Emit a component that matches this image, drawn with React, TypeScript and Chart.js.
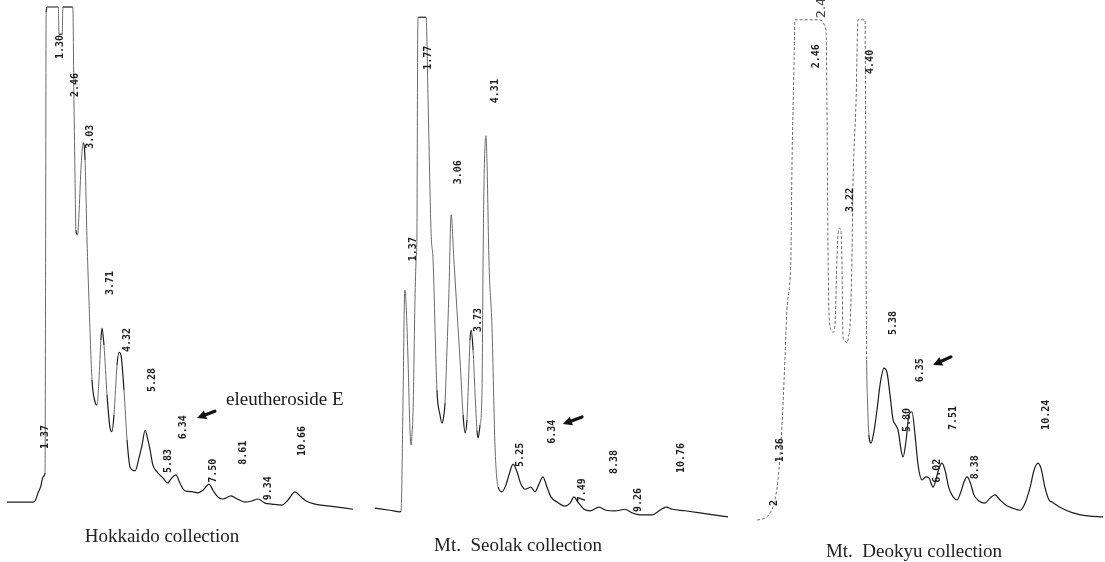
import React, { useEffect, useRef } from "react";
import { Chart, registerables } from "chart.js";

Chart.register(...registerables);

// ---------------- Hokkaido collection ----------------
const hokkaidoTime = [0.25, 1.19, 1.26, 1.37, 1.47, 1.55, 1.62, 1.64, 1.66, 1.70, 2.10, 2.12, 2.24, 2.26, 2.62, 2.66, 2.70, 2.73, 2.79, 2.84, 2.91, 2.99, 3.06, 3.13, 3.20, 3.31, 3.42, 3.49, 3.56, 3.63, 3.67, 3.74, 3.85, 3.96, 4.03, 4.10, 4.21, 4.28, 4.35, 4.46, 4.57, 4.68, 4.86, 5.00, 5.11, 5.22, 5.32, 5.40, 5.50, 5.65, 5.86, 6.04, 6.12, 6.33, 6.47, 6.65, 6.94, 7.12, 7.30, 7.52, 7.66, 7.84, 8.02, 8.31, 8.53, 8.81, 9.06, 9.28, 9.53, 9.78, 10.14, 10.36, 10.61, 10.79, 11.01, 11.33, 11.87, 12.70];
const hokkaidoSignal = [3.5, 3.5, 3.7, 5.3, 6.6, 8.4, 9.2, 50.0, 99.0, 100, 100, 94.7, 94.7, 100, 100, 81.9, 66.3, 56.5, 55.6, 59.5, 68.2, 73.5, 70.2, 54.6, 42.9, 27.3, 23.0, 22.4, 27.3, 35.1, 37.4, 34.1, 24.4, 17.9, 17.2, 20.5, 30.2, 32.7, 32.2, 25.3, 15.6, 10.3, 9.6, 12.1, 14.6, 17.5, 15.6, 13.6, 10.7, 9.4, 8.2, 7.2, 7.8, 8.8, 7.2, 5.7, 5.5, 5.3, 5.8, 7.0, 5.8, 4.5, 4.1, 4.7, 4.1, 3.5, 3.7, 4.1, 3.3, 3.1, 2.9, 3.9, 5.5, 4.7, 3.7, 3.1, 2.7, 2.1];
const hokkaidoPeakLabels = ["1.37", "1.30", "2.46", "3.03", "3.71", "4.32", "5.28", "5.83", "6.34", "7.50", "8.61", "9.34", "10.66"];
const hokkaidoLabelTime = [1.62, 2.16, 2.70, 3.24, 3.96, 4.57, 5.47, 6.04, 6.58, 7.66, 8.74, 9.64, 10.86];
const hokkaidoLabelLevel = [16.2, 92.2, 84.8, 74.7, 46.2, 35.1, 27.3, 11.5, 18.1, 9.6, 13.1, 6.2, 15.4];
const hokkaidoArrowTail = [7.73, 21.2];
const hokkaidoArrowHead = [7.09, 19.9];
const hokkaidoCaption = "Hokkaido collection";
const compoundName = "eleutheroside E";
const compoundNameAt = [8.13, 23.4];

// ---------------- Mt. Seolak collection ----------------
const seolakTime = [0.25, 0.79, 1.15, 1.19, 1.26, 1.31, 1.33, 1.38, 1.44, 1.51, 1.55, 1.58, 1.62, 1.69, 1.73, 1.76, 1.79, 1.81, 2.09, 2.16, 2.27, 2.34, 2.48, 2.59, 2.66, 2.73, 2.77, 2.84, 2.91, 2.99, 3.09, 3.20, 3.31, 3.42, 3.49, 3.56, 3.60, 3.67, 3.71, 3.78, 3.85, 3.92, 3.96, 4.03, 4.10, 4.14, 4.17, 4.24, 4.28, 4.35, 4.46, 4.57, 4.68, 4.82, 4.96, 5.07, 5.22, 5.36, 5.50, 5.65, 5.86, 6.01, 6.15, 6.29, 6.44, 6.58, 6.80, 7.09, 7.27, 7.41, 7.55, 7.77, 7.99, 8.31, 8.56, 8.88, 9.06, 9.24, 9.50, 9.78, 10.22, 10.50, 10.72, 10.94, 11.40, 11.94, 12.95];
const seolakSignal = [2.3, 1.9, 1.6, 1.8, 23.4, 42.9, 44.8, 40.9, 31.2, 17.5, 14.6, 16.6, 20.9, 42.9, 50.7, 55.9, 96.0, 98.0, 98.0, 81.9, 55.9, 50.7, 25.3, 20.5, 18.9, 20.5, 22.8, 33.1, 44.2, 59.5, 50.7, 40.9, 31.2, 20.5, 17.0, 19.5, 24.8, 35.1, 37.0, 33.1, 24.8, 17.5, 16.0, 18.5, 24.8, 50.7, 64.9, 74.9, 70.0, 50.7, 37.6, 14.2, 6.4, 5.5, 6.8, 8.8, 10.9, 9.4, 7.0, 6.0, 6.4, 5.5, 7.0, 8.4, 6.4, 4.5, 3.5, 2.7, 3.3, 4.5, 3.5, 2.1, 1.8, 2.5, 1.9, 1.8, 1.9, 2.1, 1.4, 1.0, 1.0, 1.9, 2.5, 2.1, 1.8, 1.4, 0.6];
const seolakPeakLabels = ["1.37", "1.77", "3.06", "4.31", "3.73", "5.25", "6.34", "7.49", "8.38", "9.26", "10.76"];
const seolakLabelTime = [1.62, 2.16, 3.24, 4.57, 3.96, 5.50, 6.62, 7.73, 8.85, 9.71, 11.29];
const seolakLabelLevel = [52.8, 90.1, 67.8, 83.6, 39.0, 12.7, 17.2, 5.8, 11.3, 3.9, 12.1];
const seolakArrowTail = [7.70, 20.1];
const seolakArrowHead = [7.01, 18.7];
const seolakCaption = "Mt.  Seolak collection";

// ---------------- Mt. Deokyu collection ----------------
const deokyuTime = [0.76, 0.94, 1.15, 1.37, 1.51, 1.65, 1.76, 1.83, 1.94, 1.98, 2.01, 2.09, 2.12, 2.95, 3.24, 3.27, 3.31, 3.35, 3.42, 3.49, 3.56, 3.63, 3.67, 3.71, 3.78, 3.81, 3.85, 3.92, 3.99, 4.06, 4.10, 4.17, 4.21, 4.32, 4.39, 4.64, 4.66, 4.68, 4.70, 4.73, 4.78, 4.86, 4.96, 5.07, 5.18, 5.32, 5.43, 5.54, 5.65, 5.72, 5.83, 5.94, 6.01, 6.12, 6.22, 6.33, 6.44, 6.55, 6.69, 6.83, 6.94, 7.09, 7.19, 7.30, 7.41, 7.52, 7.66, 7.81, 7.95, 8.09, 8.20, 8.31, 8.42, 8.56, 8.74, 8.96, 9.14, 9.32, 9.50, 9.71, 9.96, 10.22, 10.40, 10.58, 10.72, 10.86, 10.97, 11.12, 11.26, 11.37, 11.65, 12.12, 12.66, 13.20];
const deokyuSignal = [0.0, 0.2, 0.8, 3.3, 7.8, 18.1, 31.2, 40.9, 46.8, 52.6, 67.6, 89.7, 97.5, 97.5, 95.5, 81.9, 52.6, 39.6, 37.0, 36.6, 38.0, 50.7, 55.6, 56.9, 56.1, 50.7, 35.7, 34.9, 34.5, 36.1, 37.6, 50.7, 65.7, 81.9, 97.5, 97.5, 81.9, 50.7, 31.2, 23.4, 16.6, 15.0, 17.2, 21.4, 26.3, 29.6, 28.8, 24.4, 19.5, 18.7, 17.5, 13.6, 12.3, 15.6, 20.5, 21.1, 16.6, 10.7, 7.8, 8.4, 8.2, 6.4, 7.8, 10.1, 11.1, 9.7, 6.2, 4.5, 3.9, 5.5, 7.4, 8.4, 7.4, 4.9, 3.7, 3.3, 4.3, 4.9, 3.9, 2.9, 2.3, 1.9, 3.3, 6.4, 9.7, 11.1, 10.1, 6.2, 3.9, 3.5, 2.5, 1.4, 0.8, 0.6];
const deokyuPeakLabels = ["2", "1.36", "2.46", "4.40", "3.22", "5.38", "6.35", "5.80", "6.02", "7.51", "8.38", "10.24"];
const deokyuLabelTime = [1.37, 1.58, 2.88, 4.82, 4.10, 5.65, 6.65, 6.15, 7.23, 7.81, 8.60, 11.15];
const deokyuLabelLevel = [3.3, 13.6, 90.4, 89.3, 62.4, 38.4, 29.2, 19.5, 9.6, 19.9, 10.3, 20.5];
const deokyuOverflowLabel = "2.4";
const deokyuOverflowAt = [3.09, 99.8];
const deokyuArrowTail = [7.73, 31.8];
const deokyuArrowHead = [7.09, 30.2];
const deokyuCaption = "Mt.  Deokyu collection";

// ---------------- layout / style ----------------
const MIN_PER_PX = 1 / 27.8;
const TRACE = "#1c1c1c";
const FAINT = "#6a6a6a";

type PanelSpec = {
  left: number;
  width: number;
  time: number[];
  signal: number[];
  labels: string[];
  labelTime: number[];
  labelLevel: number[];
  arrowTail: number[];
  arrowHead: number[];
  caption: string;
  captionX: number;
  captionY: number;
  dashedBefore: number;
  extra?: (chart: any) => void;
};

function drawArrow(ctx: CanvasRenderingContext2D, x0: number, y0: number, x1: number, y1: number) {
  const ang = Math.atan2(y1 - y0, x1 - x0);
  const headLen = 9;
  const headHalf = 4.5;
  const bx = x1 - Math.cos(ang) * headLen;
  const by = y1 - Math.sin(ang) * headLen;
  ctx.save();
  ctx.strokeStyle = "#111";
  ctx.fillStyle = "#111";
  ctx.lineWidth = 3.2;
  ctx.lineCap = "round";
  ctx.beginPath();
  ctx.moveTo(x0, y0);
  ctx.lineTo(bx, by);
  ctx.stroke();
  ctx.beginPath();
  ctx.moveTo(x1, y1);
  ctx.lineTo(bx + Math.sin(ang) * headHalf, by - Math.cos(ang) * headHalf);
  ctx.lineTo(bx - Math.sin(ang) * headHalf, by + Math.cos(ang) * headHalf);
  ctx.closePath();
  ctx.fill();
  ctx.restore();
}

function Panel({ spec }: { spec: PanelSpec }) {
  const ref = useRef<HTMLCanvasElement>(null);
  useEffect(() => {
    if (!ref.current) return;
    const annot = {
      id: "chromAnnot",
      afterDatasetsDraw(chart: any) {
        const ctx: CanvasRenderingContext2D = chart.ctx;
        const xs = chart.scales.x;
        const ys = chart.scales.y;
        ctx.save();
        ctx.fillStyle = "#1e1e1e";
        ctx.font = 'bold 10px "DejaVu Sans Mono", monospace';
        ctx.textAlign = "center";
        ctx.textBaseline = "middle";
        spec.labels.forEach((txt, i) => {
          const px = xs.getPixelForValue(spec.labelTime[i]);
          const py = ys.getPixelForValue(spec.labelLevel[i]);
          ctx.save();
          ctx.translate(px, py);
          ctx.rotate(-Math.PI / 2);
          ctx.fillText(txt, 0, 0);
          ctx.restore();
        });
        drawArrow(
          ctx,
          xs.getPixelForValue(spec.arrowTail[0]),
          ys.getPixelForValue(spec.arrowTail[1]),
          xs.getPixelForValue(spec.arrowHead[0]),
          ys.getPixelForValue(spec.arrowHead[1])
        );
        if (spec.extra) spec.extra(chart);
        ctx.fillStyle = "#222";
        ctx.font = '19px "Liberation Serif", "Times New Roman", serif';
        ctx.textAlign = "center";
        ctx.textBaseline = "middle";
        ctx.fillText(spec.caption, spec.captionX, spec.captionY);
        ctx.restore();
      },
    };
    const steep = (c: any) => Math.abs(c.p1.y - c.p0.y) > 12 * Math.abs(c.p1.x - c.p0.x);
    const early = (c: any) => c.p1.parsed.x <= spec.dashedBefore;
    const chart = new Chart(ref.current, {
      type: "line",
      data: {
        datasets: [
          {
            data: spec.time.map((t, i) => ({ x: t, y: spec.signal[i] })),
            borderColor: TRACE,
            borderWidth: 1.2,
            pointRadius: 0,
            cubicInterpolationMode: "monotone",
            clip: false as any,
            segment: {
              borderColor: (c: any) => (steep(c) || early(c) ? FAINT : undefined),
              borderWidth: (c: any) => (steep(c) || early(c) ? 1 : undefined),
              borderDash: (c: any) => (early(c) ? [3, 2] : undefined),
            } as any,
          },
        ],
      },
      options: {
        animation: false,
        responsive: false,
        events: [],
        layout: { padding: { top: 7, bottom: 26.6, left: 0, right: 0 } },
        scales: {
          x: { type: "linear", min: 0, max: spec.width * MIN_PER_PX, display: false },
          y: { type: "linear", min: -3, max: 100, display: false },
        },
        plugins: {
          legend: { display: false },
          tooltip: { enabled: false },
          title: { display: false },
        },
      },
      plugins: [annot],
    });
    return () => chart.destroy();
  }, []);
  return (
    <canvas
      ref={ref}
      width={spec.width}
      height={562}
      style={{ position: "absolute", left: spec.left, top: 0, width: spec.width, height: 562 }}
    />
  );
}

const panels: PanelSpec[] = [
  {
    left: 0,
    width: 368,
    time: hokkaidoTime,
    signal: hokkaidoSignal,
    labels: hokkaidoPeakLabels,
    labelTime: hokkaidoLabelTime,
    labelLevel: hokkaidoLabelLevel,
    arrowTail: hokkaidoArrowTail,
    arrowHead: hokkaidoArrowHead,
    caption: hokkaidoCaption,
    captionX: 162,
    captionY: 537,
    dashedBefore: -1,
    extra: (chart: any) => {
      const ctx: CanvasRenderingContext2D = chart.ctx;
      ctx.save();
      ctx.fillStyle = "#1a1a1a";
      ctx.font = '19px "Liberation Serif", "Times New Roman", serif';
      ctx.textAlign = "left";
      ctx.textBaseline = "middle";
      ctx.fillText(
        compoundName,
        chart.scales.x.getPixelForValue(compoundNameAt[0]),
        chart.scales.y.getPixelForValue(compoundNameAt[1])
      );
      ctx.restore();
    },
  },
  {
    left: 368,
    width: 368,
    time: seolakTime,
    signal: seolakSignal,
    labels: seolakPeakLabels,
    labelTime: seolakLabelTime,
    labelLevel: seolakLabelLevel,
    arrowTail: seolakArrowTail,
    arrowHead: seolakArrowHead,
    caption: seolakCaption,
    captionX: 150,
    captionY: 546,
    dashedBefore: -1,
  },
  {
    left: 736,
    width: 369,
    time: deokyuTime,
    signal: deokyuSignal,
    labels: deokyuPeakLabels,
    labelTime: deokyuLabelTime,
    labelLevel: deokyuLabelLevel,
    arrowTail: deokyuArrowTail,
    arrowHead: deokyuArrowHead,
    caption: deokyuCaption,
    captionX: 178,
    captionY: 552,
    dashedBefore: 4.71,
    extra: (chart: any) => {
      const ctx: CanvasRenderingContext2D = chart.ctx;
      const px = chart.scales.x.getPixelForValue(deokyuOverflowAt[0]);
      const py = chart.scales.y.getPixelForValue(deokyuOverflowAt[1]);
      ctx.save();
      ctx.fillStyle = "#444";
      ctx.font = '13px "DejaVu Sans", sans-serif';
      ctx.textAlign = "center";
      ctx.textBaseline = "middle";
      ctx.translate(px, py);
      ctx.rotate(-Math.PI / 2);
      ctx.fillText(deokyuOverflowLabel, 0, 0);
      ctx.restore();
    },
  },
];

export default function App() {
  return (
    <div style={{ position: "fixed", left: 0, top: 0, width: 1105, height: 562, background: "#fff", overflow: "hidden" }}>
      {panels.map((p, i) => (
        <Panel key={i} spec={p} />
      ))}
    </div>
  );
}
